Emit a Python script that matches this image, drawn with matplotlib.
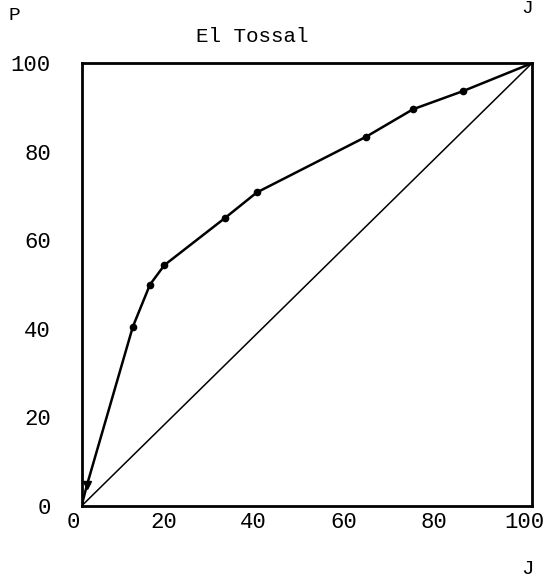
import matplotlib
matplotlib.use("Agg")
import matplotlib.pyplot as plt
import matplotlib.transforms as mtransforms

# Lorenz curve, El Tossal
j_vals = [0, 1.2, 11.4, 15.2, 18.4, 31.8, 38.9, 63.2, 73.6, 84.7, 100]
p_vals = [0, 4.7, 40.5, 50.0, 54.4, 65.0, 70.8, 83.4, 89.6, 93.7, 100]
ticks = [0, 20, 40, 60, 80, 100]
tick_labels = ["0", "20", "40", "60", "80", "100"]

font = "Liberation Mono"

fig = plt.figure(figsize=(5.53, 5.85), dpi=100)
ax = fig.add_axes([0.1474, 0.135, 0.8146, 0.757])

# equality line
ax.plot([0, 100], [0, 100], color="black", lw=1.1)
# curve
ax.plot(j_vals, p_vals, color="black", lw=1.8)
ax.plot(j_vals[2:-1], p_vals[2:-1], "o", color="black", ms=4.5)
ax.plot(j_vals[1], p_vals[1], "v", color="black", ms=5.5)

ax.set_xlim(0, 100)
ax.set_ylim(0, 100)
for s in ax.spines.values():
    s.set_linewidth(2)

ax.set_xticks(ticks)
ax.set_xticklabels(tick_labels, family=font, fontsize=16)
ax.set_yticks(ticks)
ax.set_yticklabels(tick_labels, family=font, fontsize=16)
ax.tick_params(axis="both", length=0)
ax.tick_params(axis="x", pad=4)
ax.tick_params(axis="y", pad=22)

# x labels sit a bit left of their ticks in the original
shift = mtransforms.ScaledTranslation(-8 / 100, 0, fig.dpi_scale_trans)
for lab in ax.get_xticklabels():
    lab.set_transform(lab.get_transform() + shift)

fig.text(252 / 553, 1 - 37 / 585, "El Tossal", family=font, fontsize=15,
         ha="center", va="center")
fig.text(14 / 553, 1 - 16 / 585, "P", family=font, fontsize=14,
         ha="center", va="center")
fig.text(527 / 553, 1 - 568 / 585, "J", family=font, fontsize=15,
         ha="center", va="center")
fig.text(527 / 553, 1.0, "J", family=font, fontsize=14,
         ha="center", va="top")

fig.savefig("out.png", dpi=100)
